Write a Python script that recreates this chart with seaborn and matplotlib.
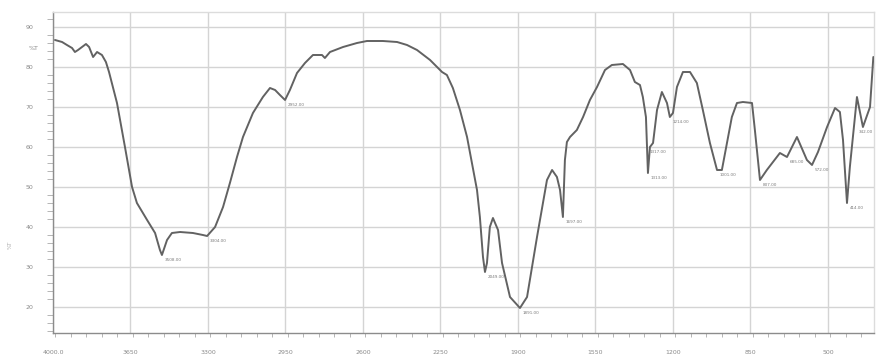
import numpy as np
import pandas as pd
import matplotlib
matplotlib.use("Agg")
import matplotlib.pyplot as plt
from matplotlib.ticker import MultipleLocator, FixedLocator
import seaborn as sns

# ---- data ----
wavenumber = [3991, 3959, 3937, 3914, 3901, 3887, 3869, 3851, 3837, 3819,
              3801, 3779, 3761, 3747, 3711, 3675, 3643, 3621, 3575, 3539,
              3517, 3508, 3485, 3463, 3426, 3368, 3323, 3304, 3268, 3232,
              3201, 3169, 3142, 3097, 3052, 3020, 2997, 2975, 2952, 2930,
              2898, 2862, 2826, 2785, 2772, 2749, 2690, 2627, 2582, 2510,
              2446, 2401, 2356, 2297, 2243, 2221, 2194, 2162, 2130, 2108,
              2085, 2072, 2058, 2049, 2040, 2027, 2013, 1990, 1972, 1936,
              1891, 1859, 1814, 1769, 1746, 1724, 1710, 1697, 1688, 1679,
              1665, 1634, 1606, 1575, 1543, 1507, 1476, 1426, 1394, 1372,
              1349, 1336, 1322, 1317, 1313, 1304, 1290, 1272, 1250, 1227,
              1214, 1200, 1182, 1155, 1123, 1092, 1065, 1033, 1001, 979,
              956, 934, 911, 884, 843, 830, 807, 776, 717, 685,
              640, 595, 572, 545, 504, 468, 446, 432, 414, 401,
              369, 342, 310, 295]
transmittance = [86.75, 86.25, 85.5, 84.75, 83.75, 84.25, 85.0, 85.75, 85.0, 82.5,
                 83.75, 83.0, 81.25, 78.75, 71.0, 60.0, 50.0, 46.0, 41.75, 38.5,
                 34.25, 33.0, 36.75, 38.5, 38.75, 38.5, 38.0, 37.75, 40.0, 45.0,
                 51.0, 57.5, 62.5, 68.5, 72.5, 74.75, 74.25, 73.0, 71.75, 74.25,
                 78.5, 81.0, 83.0, 83.0, 82.25, 83.75, 85.0, 86.0, 86.5, 86.5,
                 86.25, 85.5, 84.25, 81.75, 78.75, 78.0, 74.75, 69.25, 62.5, 56.0,
                 49.25, 42.5, 32.5, 28.75, 31.0, 40.0, 42.25, 39.25, 31.0, 22.5,
                 19.75, 22.5, 37.5, 51.75, 54.25, 52.5, 49.25, 42.5, 56.75, 61.25,
                 62.5, 64.25, 67.5, 71.75, 75.0, 79.25, 80.5, 80.75, 79.25, 76.25,
                 75.5, 72.5, 67.5, 60.0, 53.5, 60.0, 61.0, 69.25, 73.75, 71.0,
                 67.5, 68.5, 75.0, 78.75, 78.75, 76.0, 69.25, 61.0, 54.25, 54.25,
                 61.0, 67.5, 71.0, 71.25, 71.0, 64.25, 51.75, 54.25, 58.5, 57.5,
                 62.5, 56.75, 55.5, 58.75, 65.0, 69.75, 68.75, 61.75, 46.0, 55.0,
                 72.5, 65.0, 70.0, 82.5]
peak_wavenumbers = [3508, 3304, 2952, 2049, 1891, 1697, 1317, 1313, 1214,
                    1001, 807, 685, 572, 414, 342]
x_ticks = [4000, 3650, 3300, 2950, 2600, 2250, 1900, 1550, 1200, 850, 500]
x_tick_labels = ["4000.0", "3650", "3300", "2950", "2600", "2250",
                 "1900", "1550", "1200", "850", "500"]
y_ticks = [20, 30, 40, 50, 60, 70, 80, 90]
y_tick_labels = ["20", "30", "40", "50", "60", "70", "80", "90"]

df = pd.DataFrame({"wn": wavenumber, "T": transmittance})
lookup = dict(zip(wavenumber, transmittance))

sns.set_theme(style="white")
plt.rcParams["font.family"] = ["DejaVu Sans"]

W, H = 877, 356
fig = plt.figure(figsize=(W / 100, H / 100), dpi=100)
fig.patch.set_facecolor("white")
ax = fig.add_axes([53 / W, 1 - 333 / H, (874 - 53) / W, (333 - 12) / H])

sns.lineplot(data=df, x="wn", y="T", sort=False, estimator=None, ax=ax,
             color="#626262", linewidth=1.4, zorder=3)
for ln in ax.get_lines():
    ln.set_solid_joinstyle("round")
    ln.set_solid_capstyle("round")

ax.set_xlim(4000, 292)
ax.set_ylim(13.5, 93.75)

ax.xaxis.set_major_locator(FixedLocator(x_ticks))
ax.set_xticklabels(x_tick_labels)
ax.xaxis.set_minor_locator(MultipleLocator(70))
ax.yaxis.set_major_locator(FixedLocator(y_ticks))
ax.set_yticklabels(y_tick_labels)
ax.yaxis.set_minor_locator(MultipleLocator(2))

ax.grid(True, which="major", color="#d4d4d4", linewidth=1.0, zorder=0)
ax.set_axisbelow(True)

ax.tick_params(axis="x", which="major", length=6, width=0.9, color="#9a9a9a",
               labelsize=4.5, labelcolor="#8a8a8a", pad=6, direction="out")
ax.tick_params(axis="x", which="minor", length=3, width=0.6, color="#aaaaaa",
               direction="out", bottom=True)
ax.tick_params(axis="y", which="major", length=11, width=0.9, color="#9a9a9a",
               labelsize=4.5, labelcolor="#8a8a8a", pad=3, direction="out")
ax.tick_params(axis="y", which="minor", length=4.5, width=0.6, color="#aaaaaa",
               direction="out", left=True)

for side in ["left", "bottom"]:
    ax.spines[side].set_color("#8c8c8c")
    ax.spines[side].set_linewidth(1.0)
for side in ["top", "right"]:
    ax.spines[side].set_color("#dcdcdc")
    ax.spines[side].set_linewidth(1.0)

ax.set_xlabel("")
ax.set_ylabel("")

# peak labels
for w in peak_wavenumbers:
    t = lookup[w]
    ha = "left" if w > 360 else "center"
    ax.annotate(f"{w:.2f}", xy=(w, t), xytext=(2, -2), textcoords="offset points",
                fontsize=3, color="#7a7a7a", ha=ha, va="top", zorder=4)

# extra axis texts
fig.text(34 / W, 1 - 48 / H, "%T", fontsize=4.5, color="#8a8a8a",
         ha="center", va="center")
fig.text(10 / W, 1 - 245 / H, "%T", fontsize=4, color="#b0b0b0",
         ha="center", va="center", rotation=90)

fig.savefig("out.png", dpi=100, facecolor="white")
